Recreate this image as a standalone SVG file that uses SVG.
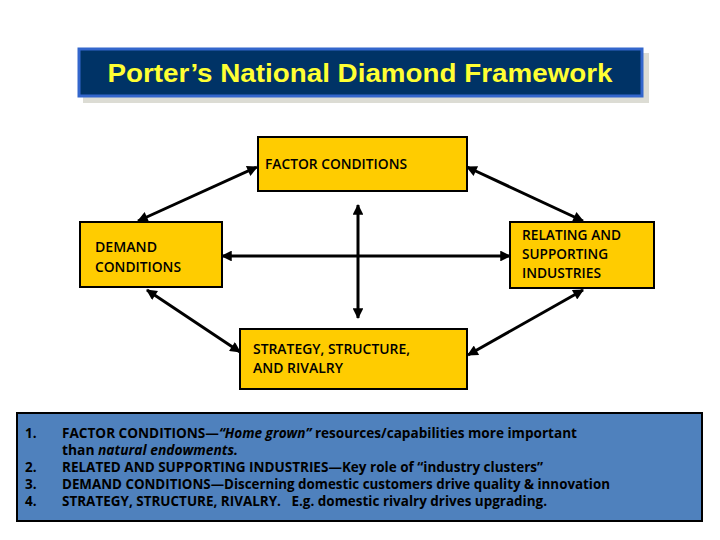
<svg xmlns="http://www.w3.org/2000/svg" width="720" height="540" viewBox="0 0 720 540">
<defs>
<style>
.box{fill:#ffcc00;stroke:#000;stroke-width:2}
.lbl{font-family:"Open Sans","Liberation Sans",sans-serif;font-weight:600;font-size:13.5px;fill:#000}
.bt{font-family:"Open Sans","Liberation Sans",sans-serif;font-weight:700;font-size:13.5px;fill:#000}
.con{stroke:#000;stroke-width:3;fill:none;marker-start:url(#ah);marker-end:url(#ah)}
</style>
<marker id="ah" viewBox="0 0 10 10" refX="9" refY="5" markerWidth="4" markerHeight="3.6" orient="auto-start-reverse" markerUnits="strokeWidth">
<path d="M0,0 L10,5 L0,10 Z" fill="#000"/>
</marker>
</defs>
<rect width="720" height="540" fill="#fff"/>
<g id="title">
<rect x="83" y="53" width="566" height="50" fill="#dcdcd4"/>
<rect x="79" y="49" width="563" height="47" fill="#003366" stroke="#3366cc" stroke-width="3"/>
<text x="360" y="82" text-anchor="middle" font-family="'Liberation Sans',Arial,sans-serif" font-weight="700" font-size="25" fill="#ffff33" textLength="505" lengthAdjust="spacingAndGlyphs">Porter’s National Diamond Framework</text>
</g>
<g id="connectors">
<line class="con" x1="257" y1="167" x2="138" y2="221"/>
<line class="con" x1="467" y1="167" x2="583" y2="221"/>
<line class="con" x1="147" y1="290" x2="240" y2="352"/>
<line class="con" x1="583" y1="290" x2="468" y2="355"/>
<line class="con" x1="222" y1="256" x2="510" y2="256"/>
<line class="con" x1="358" y1="205" x2="358" y2="318"/>
</g>
<g id="factor">
<rect class="box" x="258" y="137" width="209" height="54"/>
<text class="lbl" x="265" y="169" textLength="142" lengthAdjust="spacingAndGlyphs">FACTOR CONDITIONS</text>
</g>
<g id="demand">
<rect class="box" x="80" y="222" width="142" height="65"/>
<text class="lbl" x="95" y="252" textLength="62" lengthAdjust="spacingAndGlyphs">DEMAND</text>
<text class="lbl" x="95" y="272" textLength="86" lengthAdjust="spacingAndGlyphs">CONDITIONS</text>
</g>
<g id="relating">
<rect class="box" x="510" y="222" width="144" height="66"/>
<text class="lbl" x="522" y="240" textLength="99" lengthAdjust="spacingAndGlyphs">RELATING AND</text>
<text class="lbl" x="522" y="259" textLength="86" lengthAdjust="spacingAndGlyphs">SUPPORTING</text>
<text class="lbl" x="522" y="278" textLength="79" lengthAdjust="spacingAndGlyphs">INDUSTRIES</text>
</g>
<g id="strategy">
<rect class="box" x="240" y="329" width="227" height="60"/>
<text class="lbl" x="253" y="354" textLength="157" lengthAdjust="spacingAndGlyphs">STRATEGY, STRUCTURE,</text>
<text class="lbl" x="253" y="373" textLength="90" lengthAdjust="spacingAndGlyphs">AND RIVALRY</text>
</g>
<g id="notes">
<rect x="17" y="413" width="685" height="108" fill="#4f81bd" stroke="#000" stroke-width="2"/>
<text class="bt" x="25" y="438">1.</text>
<text class="bt" x="62" y="438" textLength="515" lengthAdjust="spacingAndGlyphs">FACTOR CONDITIONS—<tspan font-style="italic">“Home grown”</tspan> resources/capabilities more important</text>
<text class="bt" x="62" y="455" textLength="176" lengthAdjust="spacingAndGlyphs">than <tspan font-style="italic">natural endowments.</tspan></text>
<text class="bt" x="25" y="472">2.</text>
<text class="bt" x="62" y="472" textLength="481" lengthAdjust="spacingAndGlyphs">RELATED AND SUPPORTING INDUSTRIES—Key role of “industry clusters”</text>
<text class="bt" x="25" y="489">3.</text>
<text class="bt" x="62" y="489" textLength="548" lengthAdjust="spacingAndGlyphs">DEMAND CONDITIONS—Discerning domestic customers drive quality &amp; innovation</text>
<text class="bt" x="25" y="506">4.</text>
<text class="bt" x="62" y="506" textLength="485" lengthAdjust="spacingAndGlyphs" xml:space="preserve">STRATEGY, STRUCTURE, RIVALRY.   E.g. domestic rivalry drives upgrading.</text>
</g>
</svg>
